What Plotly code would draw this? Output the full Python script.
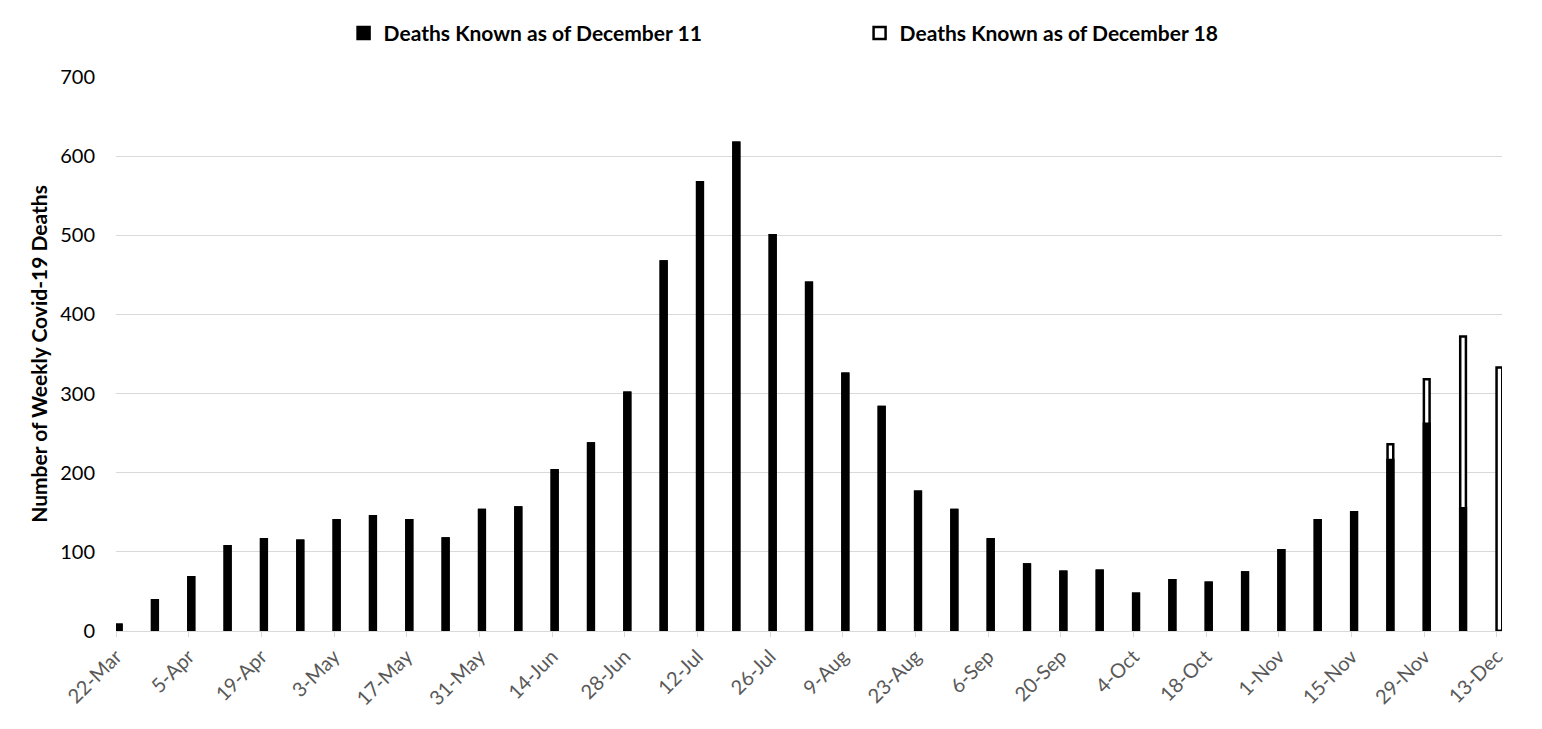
import pandas as pd
import plotly.graph_objects as go

week_starts = [
    "2020-03-22", "2020-03-29", "2020-04-05", "2020-04-12", "2020-04-19", "2020-04-26",
    "2020-05-03", "2020-05-10", "2020-05-17", "2020-05-24", "2020-05-31", "2020-06-07",
    "2020-06-14", "2020-06-21", "2020-06-28", "2020-07-05", "2020-07-12", "2020-07-19",
    "2020-07-26", "2020-08-02", "2020-08-09", "2020-08-16", "2020-08-23", "2020-08-30",
    "2020-09-06", "2020-09-13", "2020-09-20", "2020-09-27", "2020-10-04", "2020-10-11",
    "2020-10-18", "2020-10-25", "2020-11-01", "2020-11-08", "2020-11-15", "2020-11-22",
    "2020-11-29", "2020-12-06", "2020-12-13",
]
deaths_dec11 = [
    8, 39, 68, 107, 116, 114, 140, 145, 140, 117, 153, 156,
    203, 237, 301, 467, 567, 617, 500, 440, 325, 283, 176, 153,
    116, 84, 75, 76, 47, 64, 61, 74, 102, 140, 150, 216,
    262, 155, 0,
]
deaths_dec18 = [
    8, 39, 68, 107, 116, 114, 140, 145, 140, 117, 153, 156,
    203, 237, 301, 467, 567, 617, 500, 440, 325, 283, 176, 153,
    116, 84, 75, 76, 47, 64, 61, 74, 102, 140, 150, 236,
    318, 372, 333,
]
axis_start = "2020-03-22"
axis_end = "2020-12-14"
y_ticks = [0, 100, 200, 300, 400, 500, 600, 700]

DAY_MS = 86400000
x_centers = pd.to_datetime(week_starts) + pd.Timedelta(hours=12)
bar_width = 1.1 * DAY_MS

fig = go.Figure()
fig.add_bar(
    x=x_centers, y=deaths_dec18, name="Deaths Known as of December 18",
    marker=dict(color="white", line=dict(color="black", width=2.5)),
    width=bar_width, legendrank=2, opacity=1,
)
fig.add_bar(
    x=x_centers, y=deaths_dec11, name="Deaths Known as of December 11",
    marker=dict(color="black", line=dict(color="black", width=2.5)),
    width=bar_width, legendrank=1, opacity=1,
)

fig.update_layout(
    width=1542, height=729,
    margin=dict(l=116, r=40, t=77, b=98, pad=0),
    barmode="overlay",
    plot_bgcolor="white", paper_bgcolor="white",
    showlegend=True,
    legend=dict(
        orientation="h", x=0.1642, xanchor="left", y=1.079, yanchor="middle",
        entrywidth=471, entrywidthmode="pixels",
        font=dict(family="Lato", size=21, color="black", weight="bold"),
        bgcolor="rgba(0,0,0,0)",
    ),
    xaxis=dict(
        type="date", range=[axis_start, axis_end],
        tick0=axis_start, dtick=14 * DAY_MS, tickformat="%-d-%b",
        tickangle=-45, ticks="outside", ticklen=5, tickcolor="#d9d9d9",
        showline=True, linecolor="#d9d9d9", linewidth=1,
        showgrid=False, zeroline=False,
        tickfont=dict(family="Lato", size=20, color="#595959"),
    ),
    yaxis=dict(
        range=[0, 700], tickvals=y_ticks,
        showgrid=True, gridcolor="#d9d9d9", gridwidth=1,
        zeroline=False, showline=False, ticks="",
        ticklabelstandoff=20,
        tickfont=dict(family="Lato", size=20, color="black"),
        title=dict(text="Number of Weekly Covid-19 Deaths", standoff=6,
                   font=dict(family="Lato", size=21, color="black", weight="bold")),
    ),
)

fig.write_html("out.html", config={"displayModeBar": False},
               post_script="document.body.style.margin='0px';")
